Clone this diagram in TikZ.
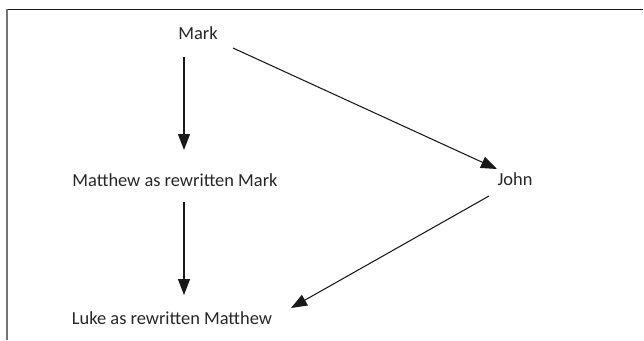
\documentclass[tikz,border=0pt]{standalone}
\usepackage{fontspec}
\setmainfont{Carlito}
\usetikzlibrary{arrows.meta,calc}
\tikzset{
  gospel/.style={inner sep=0pt, text=black!85},
  arr/.style={-{Triangle[length=12pt,width=9pt]}, line width=0.8pt, black!90},
}
\begin{document}
\begin{tikzpicture}[x=0.75pt, y=-0.75pt, font=\fontsize{13.8}{16}\selectfont, line join=round, line cap=butt]
			\useasboundingbox (0,0) rectangle (644,340);
			% frame
			\draw[line width=1.1pt, black!90] (6,9.5)--(643,9.5);
			\draw[line width=1.4pt, black!55] (7,9)--(7,340);
			% gospels
			\node[gospel] (mark) at (198,33) {Mark};
			\node[gospel] (matthew) at (175,180) {Matthew as rewritten Mark};
			\node[gospel] (luke) at (172,318) {Luke as rewritten Matthew};
			\node[gospel] (john) at (515,179) {John};
			% dependencies
			\draw[arr] ($(mark.center)+(-14,24)$) -- ($(matthew.center)+(9,-30)$);
			\draw[arr] ($(matthew.center)+(9,22)$) -- ($(luke.center)+(12,-23)$);
			\draw[arr] ($(mark.center)+(35,15)$) -- ($(john.center)+(-18,-10)$);
			\draw[arr] ($(john.center)+(-26,17)$) -- ($(luke.center)+(119,-10)$);
		\end{tikzpicture}
\end{document}
